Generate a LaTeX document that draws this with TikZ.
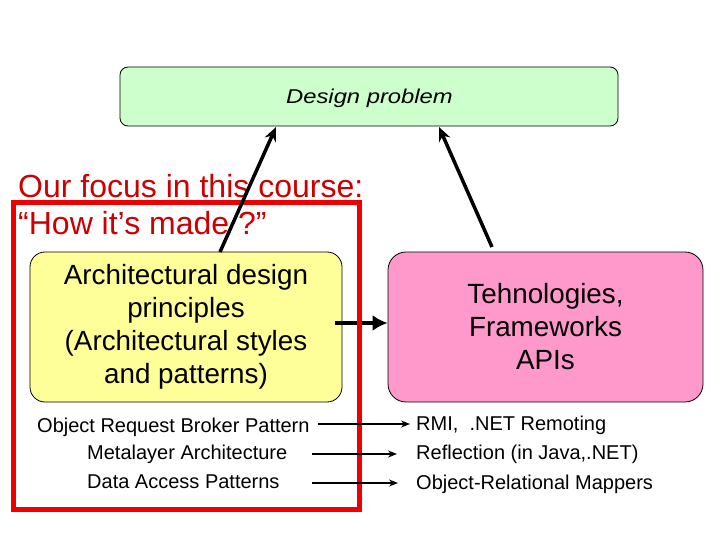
\documentclass[tikz,border=0pt]{standalone}
\usepackage{fontspec}
\setmainfont{Liberation Sans}
\usetikzlibrary{arrows.meta}
\definecolor{gfill}{HTML}{CCFFCC}
\definecolor{yfill}{HTML}{FFFF99}
\definecolor{pfill}{HTML}{FF99CC}
\definecolor{rbox}{HTML}{EE0000}
\definecolor{rtext}{HTML}{CC0000}
\tikzset{
 box/.style={draw=black, line width=0.8pt, inner sep=0pt},
 bigtxt/.style={font=\fontsize{27.8}{33}\selectfont, align=center},
 smalltxt/.style={font=\fontsize{20}{23}\selectfont, inner sep=0pt, anchor=base west},
 redtxt/.style={text=rtext, font=\fontsize{32}{38}\selectfont, inner sep=0pt, anchor=base west},
 thinarrow/.style={line width=1.3pt, -{Stealth[length=9pt,width=7pt]}},
 diagarrow/.style={line width=3.5pt, -{Stealth[length=14pt,width=12pt]}},
 thickarrow/.style={line width=4pt, -{Latex[length=15pt,width=16pt]}},
}
\begin{document}
\begin{tikzpicture}[x=1pt,y=-1pt]
\useasboundingbox (0,0) rectangle (720,540);
% design problem
\node[box, fill=gfill, rounded corners=8pt, minimum width=498pt, minimum height=59pt] (dp) at (369,96.5) {};
\node[font=\fontsize{20}{24}\selectfont\itshape, anchor=base, inner sep=0pt] (dpt) at (369.5,104) {\scalebox{1.19}[1]{Design problem}};
% yellow and pink boxes
\node[box, fill=yfill, rounded corners=15pt, minimum width=312pt, minimum height=150pt, bigtxt] (yel) at (186,327) {Architectural design\\principles\\(Architectural styles\\and patterns)};
\node[box, fill=pfill, rounded corners=18pt, minimum width=315pt, minimum height=150pt, bigtxt] (pink) at (545.5,327) {Tehnologies,\\Frameworks\\APIs};
% thick arrow
\coordinate (ts) at (335,323);
\draw[thickarrow] (ts) -- (ts -| pink.west);
% red focus box
\node[draw=rbox, line width=5pt, minimum width=346pt, minimum height=306pt, inner sep=0pt] (focus) at (186,356) {};
\node[redtxt] (f1) at (18,197) {Our focus in this course:};
\node[redtxt] (f2) at (18,235) {“How it’s made ?”};
% bottom texts
\node[smalltxt] (l1) at (37,432) {Object Request Broker Pattern};
\node[smalltxt] (l2) at (87,459) {Metalayer Architecture};
\node[smalltxt] (l3) at (87,488) {Data Access Patterns};
\node[smalltxt] (r1) at (416,430) {RMI,\ \ .NET Remoting};
\node[smalltxt] (r2) at (416,459) {Reflection (in Java,.NET)};
\node[smalltxt] (r3) at (416,489) {Object-Relational Mappers};
\coordinate (a1s) at (318,424); \coordinate (a1e) at (410,424);
\coordinate (a2s) at (312,454); \coordinate (a2e) at (397,454);
\coordinate (a3s) at (312,483); \coordinate (a3e) at (398,483);
\draw[thinarrow] (a1s) -- (a1e);
\draw[thinarrow] (a2s) -- (a2e);
\draw[thinarrow] (a3s) -- (a3e);
% diagonal arrows
\coordinate (d1s) at (220,252); \coordinate (d1e) at (276,127);
\coordinate (d2s) at (492,247); \coordinate (d2e) at (439,127);
\draw[diagarrow] (d1s) -- (d1e);
\draw[diagarrow] (d2s) -- (d2e);
\end{tikzpicture}
\end{document}
